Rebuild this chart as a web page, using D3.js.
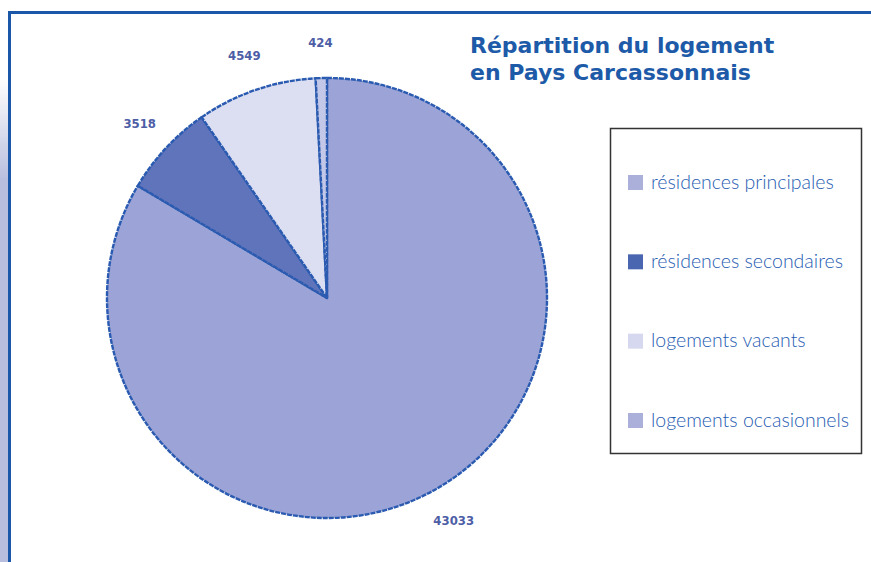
<!DOCTYPE html>
<html>
<head>
<meta charset="utf-8">
<script src="https://cdn.jsdelivr.net/npm/d3@7"></script>
<style>
  html, body { margin: 0; padding: 0; background: #fff; }
  svg { display: block; }
</style>
</head>
<body>
<svg width="871" height="562"></svg>
<script>
// data
var categories = ["résidences principales", "résidences secondaires", "logements vacants", "logements occasionnels"];
var values = [43033, 3518, 4549, 424];
var sliceColors = ["#9ca4d7", "#5f74ba", "#dcdef1", "#c4c8e8"];
var swatchColors = ["#aab0da", "#4a66b0", "#d5d8ee", "#aab0da"];
var titleLines = ["Répartition du logement", "en Pays Carcassonnais"];

var svg = d3.select("svg"),
	width = +svg.attr("width"),
	height = +svg.attr("height");

// left gradient strip
var defs = svg.append("defs");
var grad = defs.append("linearGradient")
	.attr("id", "strip").attr("x1", 0).attr("y1", 0).attr("x2", 0).attr("y2", 1);
grad.append("stop").attr("offset", "0%").attr("stop-color", "#ffffff");
grad.append("stop").attr("offset", "14%").attr("stop-color", "#ffffff");
grad.append("stop").attr("offset", "32%").attr("stop-color", "#b8bede");
grad.append("stop").attr("offset", "100%").attr("stop-color", "#b8bede");

svg.append("rect")
	.attr("x", 0).attr("y", 0).attr("width", 8).attr("height", height)
	.attr("fill", "url(#strip)");

// frame (runs off the right and bottom)
svg.append("path")
	.attr("d", "M9.5," + height + " V12.5 H" + width)
	.attr("fill", "none")
	.attr("stroke", "#1b57a9")
	.attr("stroke-width", 3);

// pie
var cx = 327, cy = 298, radius = 220;
var g = svg.append("g").attr("transform", "translate(" + cx + "," + cy + ")");

var pie = d3.pie().sort(null).value(d => d);
var arcs = pie(values);
var arc = d3.arc().innerRadius(0).outerRadius(radius);
var labelArc = d3.arc().innerRadius(256).outerRadius(256);

g.selectAll(".slice")
	.data(arcs)
	.enter().append("path")
	.attr("class", "slice")
	.attr("d", arc)
	.attr("fill", (d, i) => sliceColors[i])
	.attr("stroke", "#2a5bb0")
	.attr("stroke-width", 2.4)
	.attr("stroke-dasharray", "5,1")
	.attr("stroke-linejoin", "round");

g.selectAll(".lbl")
	.data(arcs)
	.enter().append("text")
	.attr("class", "lbl")
	.attr("transform", d => "translate(" + labelArc.centroid(d) + ")")
	.attr("text-anchor", "middle")
	.attr("dy", "0.35em")
	.attr("font-family", "'DejaVu Sans Condensed', 'DejaVu Sans', sans-serif")
	.attr("font-weight", "bold")
	.attr("font-size", 13)
	.attr("fill", "#4d5ea6")
	.text(d => d.data);

// title
svg.append("g").selectAll("text")
	.data(titleLines)
	.enter().append("text")
	.attr("x", 470)
	.attr("y", (d, i) => 53 + i * 27)
	.attr("font-family", "'DejaVu Sans', Verdana, sans-serif")
	.attr("font-weight", "bold")
	.attr("font-size", 22)
	.attr("fill", "#1d5aa8")
	.text(d => d);

// legend
var legend = svg.append("g");
legend.append("rect")
	.attr("x", 610.5).attr("y", 128.5)
	.attr("width", 251).attr("height", 325)
	.attr("fill", "#fff")
	.attr("stroke", "#333")
	.attr("stroke-width", 1.5);

var yLegend = d3.scalePoint().domain(categories).range([182, 420]);

var items = legend.selectAll(".item")
	.data(categories)
	.enter().append("g")
	.attr("class", "item")
	.attr("transform", d => "translate(628," + yLegend(d) + ")");

items.append("rect")
	.attr("x", 0).attr("y", -7)
	.attr("width", 15).attr("height", 15)
	.attr("fill", (d, i) => swatchColors[i]);

items.append("text")
	.attr("x", 23)
	.attr("dy", "0.35em")
	.attr("font-family", "Lato, 'Open Sans', sans-serif")
	.attr("font-weight", 300)
	.attr("font-size", 19.5)
	.attr("fill", "#1f5cb2")
	.text(d => d);
</script>
</body>
</html>
